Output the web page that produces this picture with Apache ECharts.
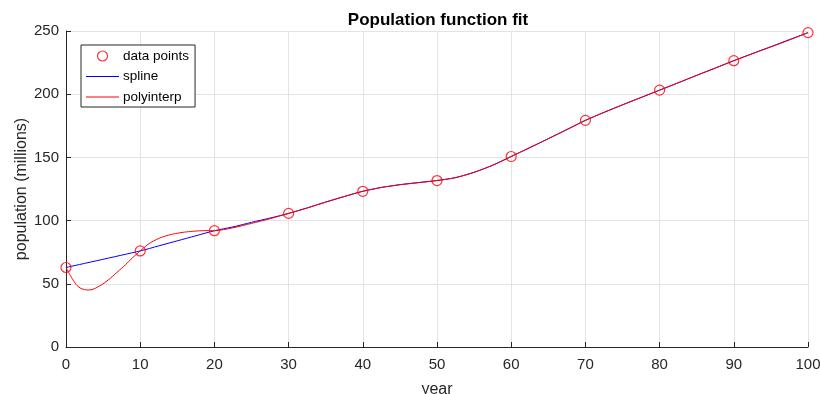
<!DOCTYPE html>
<html><head><meta charset="utf-8">
<script src="https://cdn.jsdelivr.net/npm/echarts@6/dist/echarts.min.js"></script>
<style>html,body{margin:0;padding:0;background:#fff}#c{width:820px;height:394px}</style>
</head><body><div id="c"></div>
<script>
// data points (year offset, population in millions)
var years = [0, 10, 20, 30, 40, 50, 60, 70, 80, 90, 100];
var population = [62.9, 76.0, 92.0, 105.7, 123.2, 131.7, 150.7, 179.3, 203.2, 226.5, 248.7];

// spline curve
var splineX = [0, 10, 12.5, 15, 17.5, 20, 22.5, 25, 27.5, 30, 32.5, 35, 37.5, 40, 42.5, 45, 47.5, 50, 52.5, 55, 57.5, 60, 62.5, 65, 67.5, 70, 72.5, 75, 77.5, 80, 82.5, 85, 87.5, 90, 92.5, 95, 97.5, 100];
var splineY = [62.9, 76.0, 80.0, 84.0, 88.0, 92.0, 95.0, 98.6, 102.0, 105.7, 110.0, 114.6, 119.0, 123.2, 126.2, 128.4, 130.1, 131.7, 134.0, 138.2, 143.8, 150.7, 157.7, 164.8, 172.0, 179.3, 185.6, 191.6, 197.4, 203.2, 209.0, 214.9, 220.7, 226.5, 232.1, 237.6, 243.2, 248.7];

// polynomial interpolation curve
var polyX = [0, 0.5, 1, 1.5, 2, 2.5, 3, 3.5, 4, 5, 6, 7, 8, 9, 10, 11, 12, 13, 14, 15, 16, 17, 18, 19, 20, 22.5, 25, 27.5, 30, 32.5, 35, 37.5, 40, 42.5, 45, 47.5, 50, 52.5, 55, 57.5, 60, 62.5, 65, 67.5, 70, 72.5, 75, 77.5, 80, 82.5, 85, 87.5, 90, 92.5, 95, 97.5, 100];
var polyY = [62.9, 57.5, 52.5, 48.6, 46.4, 45.4, 45.1, 45.4, 46.6, 50.0, 54.5, 59.7, 65.0, 70.8, 76.0, 81.0, 84.5, 87.0, 88.8, 90.0, 90.9, 91.5, 91.9, 92.1, 92.0, 94.3, 97.8, 101.5, 105.7, 110.0, 114.7, 119.1, 123.2, 126.2, 128.4, 130.0, 131.7, 134.0, 138.2, 143.8, 150.7, 157.7, 164.8, 172.0, 179.3, 185.6, 191.6, 197.4, 203.2, 209.0, 214.9, 220.6, 226.5, 232.0, 237.4, 242.9, 248.7];

var xTicks = [0, 100, 10];
var yTicks = [0, 250, 50];

function pairs(xs, ys) { return xs.map(function (x, i) { return [x, ys[i]]; }); }

var FONT = 'Liberation Sans';
var AX = '#262626';
var LINE_ICON = 'path://M0,0H33V1H0Z';
var chart = echarts.init(document.getElementById('c'), null, { renderer: 'canvas' });
chart.setOption({
  animation: false,
  backgroundColor: '#ffffff',
  title: {
    text: 'Population function fit',
    left: 433, top: 7, textAlign: 'center',
    textStyle: { fontFamily: FONT, fontSize: 17, fontWeight: 'bold', color: '#000' }
  },
  grid: { left: 66, right: 12, top: 31, bottom: 47, containLabel: false, outerBoundsMode: 'none' },
  legend: {
    left: 81, top: 45, orient: 'vertical',
    backgroundColor: '#ffffff', borderColor: AX, borderWidth: 1, borderRadius: 0,
    padding: [4, 6, 3, 5], itemGap: 6.5, itemWidth: 33, itemHeight: 10,
    symbolKeepAspect: true,
    textStyle: { fontFamily: FONT, fontSize: 13.5, color: '#000', padding: [0, 0, 0, -1] },
    data: [
      { name: 'data points', icon: 'circle',
        itemStyle: { color: 'rgba(0,0,0,0)', borderColor: '#ff0000', borderWidth: 1.2 } },
      { name: 'spline', icon: LINE_ICON, itemStyle: { color: '#0000ff', borderWidth: 0 } },
      { name: 'polyinterp', icon: LINE_ICON, itemStyle: { color: '#ff0000', borderWidth: 0 } }
    ]
  },
  xAxis: {
    type: 'value', min: xTicks[0], max: xTicks[1], interval: xTicks[2],
    name: 'year', nameLocation: 'middle', nameGap: 35, nameMoveOverlap: false,
    nameTextStyle: { fontFamily: FONT, fontSize: 16, color: AX },
    axisLine: { show: true, onZero: false, lineStyle: { color: AX, width: 1 } },
    axisTick: { show: true, inside: true, length: 5, lineStyle: { color: AX } },
    axisLabel: { fontFamily: FONT, fontSize: 15, color: AX, margin: 10 },
    splitLine: { show: true, lineStyle: { color: '#e3e3e3', width: 1 } }
  },
  yAxis: {
    type: 'value', min: yTicks[0], max: yTicks[1], interval: yTicks[2],
    name: 'population (millions)', nameLocation: 'middle', nameGap: 36, nameMoveOverlap: false,
    nameTextStyle: { fontFamily: FONT, fontSize: 16, color: AX },
    axisLine: { show: true, onZero: false, lineStyle: { color: AX, width: 1 } },
    axisTick: { show: true, inside: true, length: 5, lineStyle: { color: AX } },
    axisLabel: { fontFamily: FONT, fontSize: 15, color: AX, margin: 7 },
    splitLine: { show: true, lineStyle: { color: '#e3e3e3', width: 1 } }
  },
  series: [
    {
      name: 'spline', type: 'line', data: pairs(splineX, splineY),
      symbol: 'none', smooth: 0.25, z: 2,
      lineStyle: { color: '#0000ff', width: 1 }, itemStyle: { color: '#0000ff' }
    },
    {
      name: 'polyinterp', type: 'line', data: pairs(polyX, polyY),
      symbol: 'none', smooth: 0.25, z: 3,
      lineStyle: { color: '#ff0000', width: 1 }, itemStyle: { color: '#ff0000' }
    },
    {
      name: 'data points', type: 'scatter', data: pairs(years, population),
      symbol: 'circle', symbolSize: 10, z: 4,
      itemStyle: { color: 'rgba(0,0,0,0)', borderColor: '#ff0000', borderWidth: 1.2 }
    }
  ]
});
</script>
</body></html>
